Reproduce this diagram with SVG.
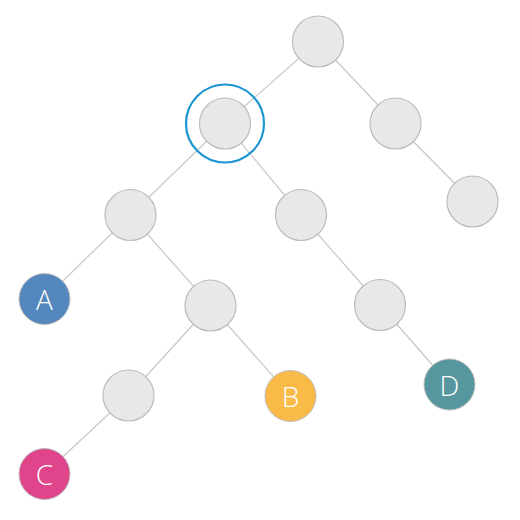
<svg xmlns="http://www.w3.org/2000/svg" width="520" height="520" viewBox="0 0 520 520">
<style>
.e{stroke:#c8c8c8;stroke-width:1.2;fill:none}
.n{fill:#e8e8e8;stroke:#bcbcbc;stroke-width:1.2}
.t{font-family:"Open Sans","Noto Sans",sans-serif;font-size:28px;font-weight:300;fill:#fff;text-anchor:middle;dominant-baseline:central}
</style>
<rect width="520" height="520" fill="#fff"/>
<g id="edges">
<line class="e" x1="318" y1="41.5" x2="225" y2="123.5"/>
<line class="e" x1="318" y1="41.5" x2="395.5" y2="123.5"/>
<line class="e" x1="225" y1="123.5" x2="130.5" y2="215"/>
<line class="e" x1="225" y1="123.5" x2="301" y2="215"/>
<line class="e" x1="395.5" y1="123.5" x2="472.5" y2="201.5"/>
<line class="e" x1="130.5" y1="215" x2="44.5" y2="299"/>
<line class="e" x1="130.5" y1="215" x2="210.5" y2="305.5"/>
<line class="e" x1="301" y1="215" x2="380" y2="305"/>
<line class="e" x1="210.5" y1="305.5" x2="128.5" y2="395.5"/>
<line class="e" x1="210.5" y1="305.5" x2="290.5" y2="396"/>
<line class="e" x1="380" y1="305" x2="449.5" y2="384.5"/>
<line class="e" x1="128.5" y1="395.5" x2="44.5" y2="474"/>
</g>
<g id="n-root"><circle class="n" cx="318" cy="41.5" r="25.5"/></g>
<g id="n-sel"><circle class="n" cx="225" cy="123.5" r="25.5"/><circle cx="225" cy="123.5" r="39" fill="none" stroke="#1a95d2" stroke-width="2.2"/></g>
<g id="n-r"><circle class="n" cx="395.5" cy="123.5" r="25.5"/></g>
<g id="n-ll"><circle class="n" cx="130.5" cy="215" r="25.5"/></g>
<g id="n-lr"><circle class="n" cx="301" cy="215" r="25.5"/></g>
<g id="n-rr"><circle class="n" cx="472.5" cy="201.5" r="25.5"/></g>
<g id="n-A"><circle cx="44.5" cy="299" r="25.5" fill="#5387be" stroke="#bcbcbc" stroke-width="1"/><text class="t" x="44.5" y="299">A</text></g>
<g id="n-llr"><circle class="n" cx="210.5" cy="305.5" r="25.5"/></g>
<g id="n-lrr"><circle class="n" cx="380" cy="305" r="25.5"/></g>
<g id="n-llrl"><circle class="n" cx="128.5" cy="395.5" r="25.5"/></g>
<g id="n-B"><circle cx="290.5" cy="396" r="25.5" fill="#f9ba48" stroke="#bcbcbc" stroke-width="1"/><text class="t" x="290.5" y="396">B</text></g>
<g id="n-D"><circle cx="449.5" cy="384.5" r="25.5" fill="#56979f" stroke="#bcbcbc" stroke-width="1"/><text class="t" x="449.5" y="384.5">D</text></g>
<g id="n-C"><circle cx="44.5" cy="474" r="25.5" fill="#e0458c" stroke="#bcbcbc" stroke-width="1"/><text class="t" x="44.5" y="474">C</text></g>
</svg>
